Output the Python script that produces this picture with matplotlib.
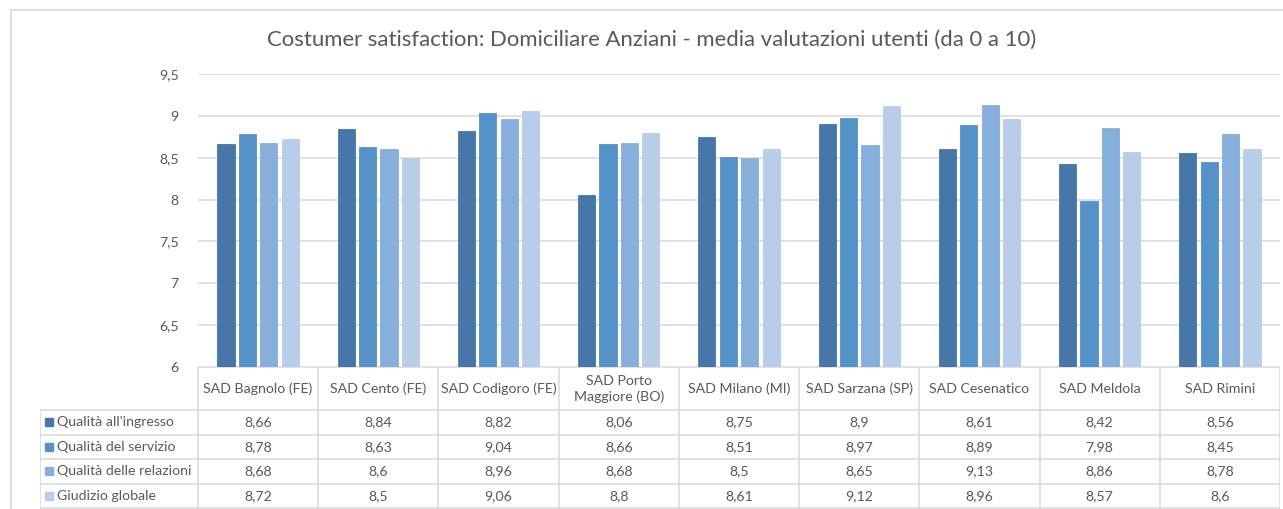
import matplotlib
matplotlib.use("Agg")
import matplotlib.pyplot as plt
from matplotlib.patches import Rectangle
import numpy as np

plt.rcParams['font.family'] = ['Lato', 'DejaVu Sans']

title = "Costumer satisfaction: Domiciliare Anziani - media valutazioni utenti (da 0 a 10)"
categories = ["SAD Bagnolo (FE)", "SAD Cento (FE)", "SAD Codigoro (FE)",
              "SAD Porto\nMaggiore (BO)", "SAD Milano (MI)", "SAD Sarzana (SP)",
              "SAD Cesenatico", "SAD Meldola", "SAD Rimini"]
series_names = ["Qualità all'ingresso", "Qualità del servizio",
                "Qualità delle relazioni", "Giudizio globale"]
qualita_ingresso = [8.66, 8.84, 8.82, 8.06, 8.75, 8.9, 8.61, 8.42, 8.56]
qualita_servizio = [8.78, 8.63, 9.04, 8.66, 8.51, 8.97, 8.89, 7.98, 8.45]
qualita_relazioni = [8.68, 8.6, 8.96, 8.68, 8.5, 8.65, 9.13, 8.86, 8.78]
giudizio_globale = [8.72, 8.5, 9.06, 8.8, 8.61, 9.12, 8.96, 8.57, 8.6]
y_ticks = [6, 6.5, 7, 7.5, 8, 8.5, 9, 9.5]

series = [qualita_ingresso, qualita_servizio, qualita_relazioni, giudizio_globale]
colors = ["#4677a8", "#5592c8", "#87afdc", "#b8cde8"]
grid_c = "#d9d9d9"
text_c = "#595959"
fs = 10.2

W, H = 1283, 509
fig = plt.figure(figsize=(W / 100, H / 100), dpi=100)

def px_axes(x0, y0, x1, y1):
    return fig.add_axes([x0 / W, 1 - y1 / H, (x1 - x0) / W, (y1 - y0) / H])

# outer border
fig.patches.append(Rectangle((11 / W, -0.1), 1.1, 1 - 10 / H + 0.1, transform=fig.transFigure,
                             fill=False, edgecolor=grid_c, lw=1.2))

left, right, top, bottom = 198, 1280, 74, 367
ax = px_axes(left, top, right, bottom)
n = len(categories)
x = np.arange(n)
bw = 0.143
pitch = 0.178
for i, (vals, c) in enumerate(zip(series, colors)):
    ax.bar(x + (i - 1.5) * pitch, vals, width=bw, color=c, zorder=3,
           edgecolor=c, linewidth=0.6)
ax.set_xlim(-0.5, n - 0.5)
ax.set_ylim(6, 9.5)
ax.set_yticks(y_ticks)
ax.set_yticklabels([("%g" % v).replace(".", ",") for v in y_ticks], color=text_c, fontsize=fs)
ax.tick_params(axis='y', length=0, pad=14)
ax.set_xticks([])
for s in ax.spines.values():
    s.set_visible(False)
ax.yaxis.grid(True, color=grid_c, lw=1.1, zorder=0)
ax.set_facecolor("none")

fig.text(652 / W, 1 - 40 / H, title, ha='center', va='center', fontsize=15.9, color=text_c)

# data table
t_left, t_bottom = 40, 508
tax = px_axes(t_left, bottom, right, t_bottom + 1)
unit = (right - left) / n
x_min = -0.5 - (left - t_left) / unit
tax.set_xlim(x_min, n - 0.5)
tax.set_ylim(t_bottom + 1, bottom)
tax.axis('off')
row_edges = [410, 434.5, 459, 483.5, 508]
lkw = dict(color=grid_c, lw=1.1, solid_capstyle='butt')
# header row
tax.plot([-0.5, n - 0.5], [bottom, bottom], **lkw)
for b in np.arange(n + 1) - 0.5:
    tax.plot([b, b], [bottom, t_bottom], **lkw)
tax.plot([x_min + 0.003, x_min + 0.003], [row_edges[0], t_bottom], **lkw)
for yy in row_edges:
    tax.plot([x_min, n - 0.5], [yy, yy], **lkw)
for j, cat in enumerate(categories):
    tax.text(j, (bottom + row_edges[0]) / 2 + 0.5, cat, ha='center', va='center',
             fontsize=fs, color=text_c, linespacing=1.3)
sw = 8 / unit
for i, (name, vals, c) in enumerate(zip(series_names, series, colors)):
    yc = (row_edges[i] + row_edges[i + 1]) / 2
    tax.add_patch(Rectangle((x_min + 5 / unit, yc - 4), sw, 8, color=c))
    tax.text(x_min + 17 / unit, yc, name, ha='left', va='center', fontsize=fs, color=text_c)
    for j, v in enumerate(vals):
        tax.text(j, yc, ("%g" % v).replace(".", ","), ha='center', va='center',
                 fontsize=fs, color=text_c)

fig.savefig("out.png", dpi=100)
